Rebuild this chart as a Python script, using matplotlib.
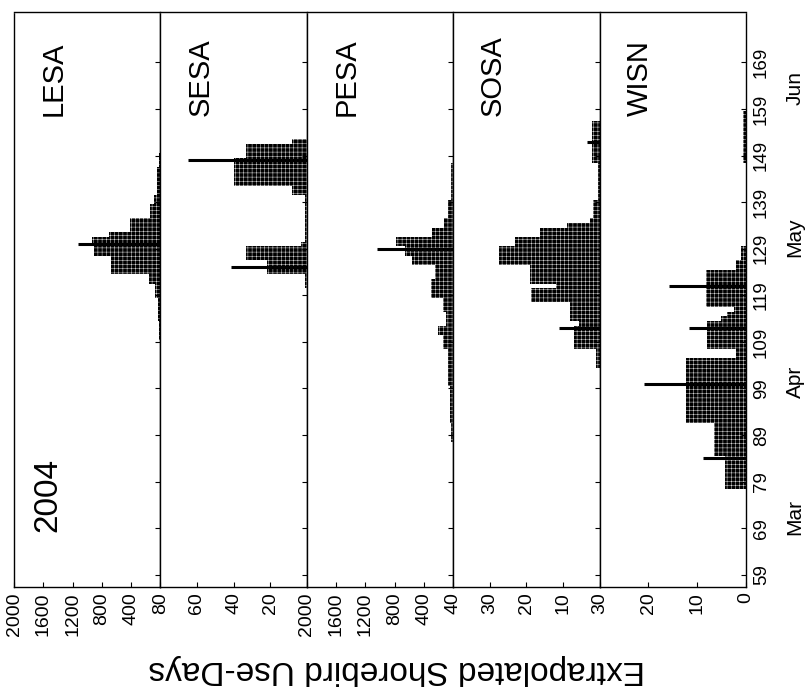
import numpy as np
import matplotlib
matplotlib.use("Agg")
import matplotlib.pyplot as plt
import matplotlib.transforms as mtrans

# day-of-year values, one bar per day
lesa_start = 110
lesa = [15]*4 + [30]*5 + [70]*3 + [160]*2 + [670]*4 + [910]*2 + [940]*2 + [705] \
    + [410]*3 + [136]*3 + [90]*2 + [40]*6 + [15]*3
sesa_start = 121
sesa = [1]*3 + [21.5]*3 + [33]*3 + [3] + [1.2]*10 + [8]*2 + [40]*6 + [33]*3 + [8]
pesa_start = 88
pesa = [25]*4 + [50]*8 + [70]*8 + [140]*3 + [205]*2 + [95]*3 + [140]*3 + [300]*4 \
    + [255]*3 + [565]*2 + [655]*2 + [780]*2 + [290]*2 + [130]*2 + [77]*4 + [25]*8
sosa_start = 104
sosa = [1]*4 + [7]*5 + [5.5] + [8.2]*4 + [18.7]*3 + [12] + [19]*4 + [27.5]*4 + [23]*2 \
    + [16.4]*2 + [9] + [2.7] + [1.8]*4 + [0.4]*8 + [2]*9
wisn_start = 78
wisn = [4.4]*7 + [6.5]*7 + [12.3]*14 + [2]*2 + [7.9]*6 + [5.1] + [3.8] + [2.4] + [8.2]*8 \
    + [2]*2 + [1]*3 + [0]*18 + [0.7]*11

# single-day spikes (day, value)
lesa_spk = [(130, 1120)]
sesa_spk = [(125, 41.5), (148, 65)]
pesa_spk = [(129, 1040)]
sosa_spk = [(112, 11.2), (152, 3.5)]
wisn_spk = [(84, 8.9), (100, 20.8), (112, 11.6), (121, 15.8)]

names = ["LESA", "SESA", "PESA", "SOSA", "WISN"]
vmax = [2000, 80, 2000, 40, 30]
vticks = [[400, 800, 1200, 1600, 2000], [20, 40, 60, 80], [400, 800, 1200, 1600, 2000],
          [10, 20, 30, 40], [0, 10, 20, 30]]
day_ticks = list(range(59, 170, 10))
months = ["Mar", "Apr", "May", "Jun"]
month_pos = [71.5, 100.5, 131.5, 163.5]

series = [(lesa_start, lesa, lesa_spk), (sesa_start, sesa, sesa_spk),
          (pesa_start, pesa, pesa_spk), (sosa_start, sosa, sosa_spk),
          (wisn_start, wisn, wisn_spk)]

plt.rcParams['font.family'] = ['Liberation Sans', 'DejaVu Sans']
plt.rcParams['hatch.linewidth'] = 0.3

W, H = 811, 692
fig = plt.figure(figsize=(W/100, H/100), dpi=100)

x0, colw = 14, 146.4
ytop, ybot = 12, 587
axes = []
for i in range(5):
    ax = fig.add_axes([(x0 + i*colw)/W, 1 - ybot/H, colw/W, (ybot - ytop)/H])
    start, vals, spk = series[i]
    days = np.arange(start, start + len(vals))
    ax.barh(days, vals, height=1.0, color='black', edgecolor='white',
            linewidth=0, hatch='++++')
    sd = [s[0] for s in spk]
    sv = [s[1] for s in spk]
    ax.hlines(sd, 0, sv, color='black', lw=2.2)
    ax.set_xlim(vmax[i], 0)
    ax.set_ylim(56.4, 179.8)
    ax.set_xticks(vticks[i])
    ax.set_xticklabels([str(v) for v in vticks[i]], rotation=90, fontsize=14)
    ax.set_yticks(day_ticks)
    ax.tick_params(axis='both', direction='in', length=3.5, width=0.8)
    ax.tick_params(axis='y', left=False, right=True, labelleft=False,
                   labelright=(i == 4), labelsize=13.5, pad=5)
    ax.tick_params(axis='x', pad=4)
    if i == 4:
        plt.setp(ax.get_yticklabels(), rotation=90, va='center')
    for s in ax.spines.values():
        s.set_linewidth(1.0)
        s.set_linestyle((0, (2, 1)))
    ax.text(0.273, 0.819, names[i], rotation=90, ha='center', va='bottom',
            fontsize=21, transform=ax.transAxes)
    axes.append(ax)

axes[0].text(0.232, 0.16, "2004", rotation=90, ha='center', va='center',
             fontsize=24, transform=axes[0].transAxes)

tr = mtrans.blended_transform_factory(axes[4].transAxes, axes[4].transData)
for m, d in zip(months, month_pos):
    axes[4].text(1.335, d, m, rotation=90, ha='center', va='center',
                 fontsize=15, transform=tr)

fig.text(397/W, 1 - 670/H, "Extrapolated Shorebird Use-Days", rotation=180,
         ha='center', va='center', fontsize=24)

plt.savefig("out.png", dpi=100)
